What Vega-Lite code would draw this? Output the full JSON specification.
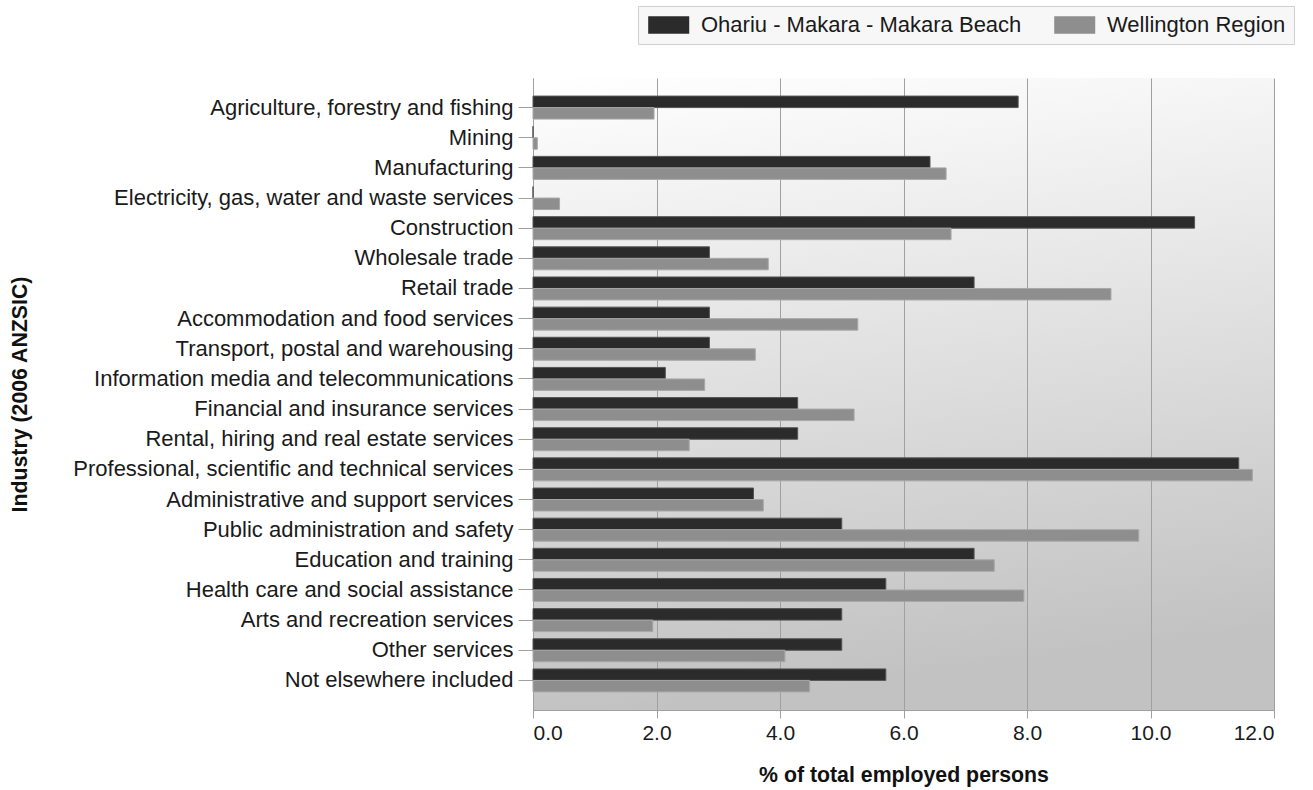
{
  "$schema": "https://vega.github.io/schema/vega-lite/v6.json",
  "width": 741,
  "height": 632,
  "autosize": {"type": "none"},
  "padding": {"left": 533, "top": 78, "right": 39, "bottom": 80},
  "background": "white",
  "config": {
    "font": "Liberation Sans",
    "view": {
      "stroke": null,
      "fill": {
        "gradient": "linear",
        "x1": 0, "y1": 0, "x2": 0.15, "y2": 1,
        "stops": [
          {"offset": 0, "color": "#ffffff"},
          {"offset": 1, "color": "#c2c2c2"}
        ]
      }
    }
  },
  "data": {
    "values": [
      {"industry": "Agriculture, forestry and fishing", "area": "Ohariu - Makara - Makara Beach", "pct": 7.857},
      {"industry": "Agriculture, forestry and fishing", "area": "Wellington Region", "pct": 1.96},
      {"industry": "Mining", "area": "Ohariu - Makara - Makara Beach", "pct": 0},
      {"industry": "Mining", "area": "Wellington Region", "pct": 0.07},
      {"industry": "Manufacturing", "area": "Ohariu - Makara - Makara Beach", "pct": 6.429},
      {"industry": "Manufacturing", "area": "Wellington Region", "pct": 6.69},
      {"industry": "Electricity, gas, water and waste services", "area": "Ohariu - Makara - Makara Beach", "pct": 0},
      {"industry": "Electricity, gas, water and waste services", "area": "Wellington Region", "pct": 0.43},
      {"industry": "Construction", "area": "Ohariu - Makara - Makara Beach", "pct": 10.714},
      {"industry": "Construction", "area": "Wellington Region", "pct": 6.77},
      {"industry": "Wholesale trade", "area": "Ohariu - Makara - Makara Beach", "pct": 2.857},
      {"industry": "Wholesale trade", "area": "Wellington Region", "pct": 3.81},
      {"industry": "Retail trade", "area": "Ohariu - Makara - Makara Beach", "pct": 7.143},
      {"industry": "Retail trade", "area": "Wellington Region", "pct": 9.36},
      {"industry": "Accommodation and food services", "area": "Ohariu - Makara - Makara Beach", "pct": 2.857},
      {"industry": "Accommodation and food services", "area": "Wellington Region", "pct": 5.26},
      {"industry": "Transport, postal and warehousing", "area": "Ohariu - Makara - Makara Beach", "pct": 2.857},
      {"industry": "Transport, postal and warehousing", "area": "Wellington Region", "pct": 3.60},
      {"industry": "Information media and telecommunications", "area": "Ohariu - Makara - Makara Beach", "pct": 2.143},
      {"industry": "Information media and telecommunications", "area": "Wellington Region", "pct": 2.78},
      {"industry": "Financial and insurance services", "area": "Ohariu - Makara - Makara Beach", "pct": 4.286},
      {"industry": "Financial and insurance services", "area": "Wellington Region", "pct": 5.20},
      {"industry": "Rental, hiring and real estate services", "area": "Ohariu - Makara - Makara Beach", "pct": 4.286},
      {"industry": "Rental, hiring and real estate services", "area": "Wellington Region", "pct": 2.53},
      {"industry": "Professional, scientific and technical services", "area": "Ohariu - Makara - Makara Beach", "pct": 11.429},
      {"industry": "Professional, scientific and technical services", "area": "Wellington Region", "pct": 11.65},
      {"industry": "Administrative and support services", "area": "Ohariu - Makara - Makara Beach", "pct": 3.571},
      {"industry": "Administrative and support services", "area": "Wellington Region", "pct": 3.73},
      {"industry": "Public administration and safety", "area": "Ohariu - Makara - Makara Beach", "pct": 5.0},
      {"industry": "Public administration and safety", "area": "Wellington Region", "pct": 9.81},
      {"industry": "Education and training", "area": "Ohariu - Makara - Makara Beach", "pct": 7.143},
      {"industry": "Education and training", "area": "Wellington Region", "pct": 7.47},
      {"industry": "Health care and social assistance", "area": "Ohariu - Makara - Makara Beach", "pct": 5.714},
      {"industry": "Health care and social assistance", "area": "Wellington Region", "pct": 7.95},
      {"industry": "Arts and recreation services", "area": "Ohariu - Makara - Makara Beach", "pct": 5.0},
      {"industry": "Arts and recreation services", "area": "Wellington Region", "pct": 1.94},
      {"industry": "Other services", "area": "Ohariu - Makara - Makara Beach", "pct": 5.0},
      {"industry": "Other services", "area": "Wellington Region", "pct": 4.08},
      {"industry": "Not elsewhere included", "area": "Ohariu - Makara - Makara Beach", "pct": 5.714},
      {"industry": "Not elsewhere included", "area": "Wellington Region", "pct": 4.48}
    ]
  },
  "mark": {"type": "bar", "strokeWidth": 1},
  "encoding": {
    "y": {
      "field": "industry",
      "type": "nominal",
      "sort": null,
      "scale": {"paddingInner": 0.237, "paddingOuter": 0.6},
      "axis": {
        "title": "Industry (2006 ANZSIC)",
        "labelFontSize": 22,
        "labelColor": "#1a1a1a",
        "labelPadding": 5,
        "labelLimit": 0,
        "tickSize": 15,
        "tickColor": "#a0a0a0",
        "domainColor": "#a0a0a0",
        "titleFontSize": 21.3,
        "titleFontWeight": "bold",
        "titleColor": "#111111",
        "titleAngle": -90,
        "titleX": -513,
        "titleY": 316,
        "titleAlign": "center",
        "titleBaseline": "middle"
      }
    },
    "yOffset": {
      "field": "area",
      "type": "nominal",
      "sort": ["Ohariu - Makara - Makara Beach", "Wellington Region"],
      "scale": {"paddingInner": 0, "paddingOuter": 0}
    },
    "x": {
      "field": "pct",
      "type": "quantitative",
      "scale": {"domain": [0, 12], "nice": false},
      "axis": {
        "title": "% of total employed persons",
        "values": [0, 2, 4, 6, 8, 10, 12],
        "format": ".1f",
        "grid": true,
        "gridColor": "#a0a0a0",
        "gridOpacity": 1,
        "tickSize": 8,
        "tickColor": "#a0a0a0",
        "domainColor": "#a0a0a0",
        "labelFontSize": 21,
        "labelColor": "#1a1a1a",
        "labelPadding": 4,
        "titleFontSize": 21.3,
        "titleFontWeight": "bold",
        "titleColor": "#111111",
        "titleY": 65,
        "titleBaseline": "middle"
      }
    },
    "color": {
      "field": "area",
      "type": "nominal",
      "scale": {"domain": ["Ohariu - Makara - Makara Beach", "Wellington Region"], "range": ["#2b2b2b", "#8e8e8e"]},
      "legend": {
        "title": null,
        "orient": "none",
        "legendX": 105,
        "legendY": -72,
        "direction": "horizontal",
        "symbolType": "M-1,-1H3.66V1H-1Z",
        "symbolSize": 310,
        "symbolStrokeWidth": 0,
        "symbolOpacity": 1,
        "labelFontSize": 22,
        "labelColor": "#1a1a1a",
        "labelLimit": 0,
        "labelOffset": 33,
        "columnPadding": 30,
        "padding": 8,
        "fillColor": "#f7f7f7",
        "strokeColor": "#d0d0d0"
      }
    },
    "stroke": {
      "field": "area",
      "type": "nominal",
      "scale": {"domain": ["Ohariu - Makara - Makara Beach", "Wellington Region"], "range": ["#555555", "#a8a8a8"]},
      "legend": null
    }
  }
}
